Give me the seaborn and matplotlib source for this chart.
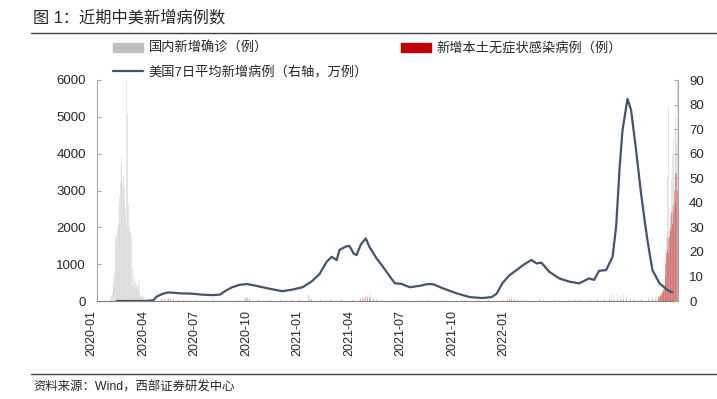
import pandas as pd
import matplotlib.pyplot as plt
import matplotlib.dates as mdates
from matplotlib.patches import Patch
from matplotlib.lines import Line2D
import seaborn as sns

# 美国7日平均新增病例（万例）
us_dates = ['2020-01-29', '2020-03-08', '2020-03-20', '2020-03-25', '2020-04-03', '2020-04-10',
            '2020-04-20', '2020-04-29', '2020-05-13', '2020-05-27', '2020-06-11', '2020-06-22',
            '2020-06-30', '2020-07-09', '2020-07-20', '2020-07-30', '2020-08-10', '2020-08-24',
            '2020-09-10', '2020-09-18', '2020-10-01', '2020-10-16', '2020-10-29', '2020-11-09',
            '2020-11-19', '2020-11-26', '2020-12-03', '2020-12-07', '2020-12-16', '2020-12-21',
            '2020-12-27', '2020-12-31', '2021-01-06', '2021-01-13', '2021-01-18', '2021-01-28',
            '2021-02-06', '2021-02-16', '2021-02-23', '2021-03-04', '2021-03-16', '2021-03-30',
            '2021-04-10', '2021-04-18', '2021-05-01', '2021-05-21', '2021-06-08', '2021-06-26',
            '2021-07-09', '2021-07-16', '2021-07-24', '2021-08-03', '2021-08-13', '2021-08-24',
            '2021-09-03', '2021-09-10', '2021-09-17', '2021-09-28', '2021-10-12', '2021-10-26',
            '2021-11-09', '2021-11-23', '2021-11-30', '2021-12-07', '2021-12-17', '2021-12-26',
            '2021-12-31', '2022-01-05', '2022-01-09', '2022-01-16', '2022-01-21', '2022-01-28',
            '2022-02-04', '2022-02-09', '2022-02-13', '2022-02-20', '2022-03-02', '2022-03-13',
            '2022-03-20']
us_avg = [0, 0, 0.3, 1.8, 3.0, 3.5,
          3.3, 3.1, 3.0, 2.6, 2.4, 2.6,
          4.2, 5.6, 6.6, 6.9, 6.3, 5.4,
          4.4, 4.0, 4.6, 5.6, 8.0, 11.0,
          16.0, 18.0, 16.7, 20.8, 22.2, 22.4,
          19.3, 18.7, 23.0, 25.5, 22.1, 17.4,
          14.0, 9.9, 7.2, 7.0, 5.6, 6.2,
          6.9, 6.8, 5.2, 3.1, 1.6, 1.2,
          1.6, 3.0, 7.2, 10.5, 12.6, 15.0,
          16.7, 15.3, 15.6, 11.9, 9.2, 7.9,
          7.2, 9.2, 8.6, 12.3, 12.6, 18.0,
          30.3, 54.7, 69.6, 82.3, 77.8, 61.5,
          43.9, 33.0, 24.8, 12.6, 7.2, 4.5,
          3.5]

# 国内新增确诊（例），2020-01-20 起逐日
cn_early_start = '2020-01-20'
cn_early_confirmed = [77, 149, 131, 259, 444, 688, 769, 1771, 1459, 1737, 1982, 2102, 2590, 2829,
                      3235, 3887, 3694, 3143, 3399, 2656, 3062, 2478, 2015, 6000, 5090, 2641, 2009,
                      2048, 1886, 1749, 394, 889, 397, 648, 409, 508, 406, 433, 327, 427, 573, 202,
                      125, 119, 139, 143, 99, 44, 40, 19, 24, 15]

# 中间阶段零星病例：日期、确诊、无症状
cn_mid_dates = ['2020-03-15', '2020-03-22', '2020-03-26', '2020-04-01', '2020-04-05', '2020-04-10',
                '2020-04-13', '2020-04-18', '2020-04-24', '2020-05-01', '2020-05-10', '2020-05-20',
                '2020-06-01', '2020-06-13', '2020-06-20', '2020-07-01', '2020-07-20', '2020-07-28',
                '2020-07-30', '2020-08-02', '2020-08-15', '2020-09-01', '2020-09-15', '2020-10-01',
                '2020-10-12', '2020-10-25', '2020-10-28', '2020-11-10', '2020-11-25', '2020-12-10',
                '2020-12-25', '2021-01-05', '2021-01-09', '2021-01-12', '2021-01-15', '2021-01-18',
                '2021-01-20', '2021-01-24', '2021-01-28', '2021-02-05', '2021-02-20', '2021-03-10',
                '2021-04-01', '2021-04-10', '2021-05-01', '2021-05-20', '2021-06-01', '2021-06-20',
                '2021-07-05', '2021-07-25', '2021-07-31', '2021-08-03', '2021-08-06', '2021-08-10',
                '2021-08-15', '2021-08-22', '2021-09-14', '2021-09-20', '2021-10-05', '2021-10-25',
                '2021-11-03', '2021-11-10', '2021-11-25', '2021-12-05', '2021-12-15', '2021-12-22',
                '2021-12-25', '2021-12-28', '2022-01-02', '2022-01-06', '2022-01-10', '2022-01-15',
                '2022-01-20', '2022-01-25', '2022-02-05', '2022-02-15', '2022-02-20', '2022-02-25']
cn_mid_confirmed = [20, 45, 60, 35, 40, 45,
                    100, 20, 10, 5, 10, 5,
                    10, 50, 25, 5, 15, 100,
                    110, 90, 30, 15, 20, 20,
                    30, 20, 25, 20, 25, 20,
                    30, 60, 120, 140, 160, 120,
                    190, 100, 60, 20, 10, 15,
                    15, 30, 15, 20, 30, 25,
                    30, 70, 90, 110, 125, 100,
                    70, 30, 60, 40, 30, 40,
                    90, 60, 40, 80, 100, 110,
                    200, 180, 190, 170, 200, 160,
                    90, 80, 60, 100, 110, 150]
cn_mid_asym = [0, 0, 0, 60, 50, 80,
               60, 50, 40, 30, 20, 25,
               15, 10, 10, 5, 20, 60,
               90, 40, 20, 25, 30, 25,
               40, 160, 60, 30, 40, 30,
               20, 40, 80, 110, 100, 80,
               60, 40, 30, 15, 10, 10,
               15, 10, 10, 5, 10, 15,
               20, 20, 30, 40, 50, 40,
               20, 10, 30, 15, 15, 10,
               20, 15, 20, 25, 20, 30,
               30, 40, 30, 40, 50, 40,
               30, 25, 30, 40, 50, 60]

# 2022年3月逐日
cn_late_start = '2022-03-01'
cn_late_confirmed = [140, 110, 175, 200, 230, 310, 260, 400, 450, 1100, 1400, 1800, 3400, 1900,
                     5280, 1900, 2400, 2300, 3300, 4000, 2000, 4400, 2600, 5000, 4700, 4300, 6000]
cn_late_asym = [120, 100, 130, 150, 180, 220, 250, 300, 350, 650, 1000, 1300, 1400, 1700,
                1300, 1750, 2000, 1900, 2400, 2100, 2600, 2400, 3000, 3470, 2700, 3470, 3000]

legend_labels = ['国内新增确诊（例）', '美国7日平均新增病例（右轴，万例）', '新增本土无症状感染病例（例）']
xtick_labels = ['2020-01', '2020-04', '2020-07', '2020-10', '2021-01',
                '2021-04', '2021-07', '2021-10', '2022-01']

gray = '#bfbfbf'
red = '#c00000'
navy = '#44546a'
axis_gray = '#a6a6a6'

sns.set_style('white')
plt.rcParams['font.family'] = ['Liberation Sans', 'Noto Sans CJK SC']

fig = plt.figure(figsize=(7.17, 3.99), dpi=100)
ax = fig.add_axes([97 / 717, 1 - 301 / 399, 581 / 717, 221 / 399])
ax2 = ax.twinx()

early_dates = pd.date_range(cn_early_start, periods=len(cn_early_confirmed))
late_dates = pd.date_range(cn_late_start, periods=len(cn_late_confirmed))
mid_dates = pd.to_datetime(cn_mid_dates)

bar_kw = dict(width=0.55, linewidth=0, snap=False)
ax.bar(early_dates, cn_early_confirmed, color=gray, **bar_kw)
ax.bar(mid_dates, cn_mid_confirmed, color=gray, **bar_kw)
ax.bar(late_dates, cn_late_confirmed, color=gray, **bar_kw)
ax.bar(mid_dates, cn_mid_asym, color='#e03030', **bar_kw)
ax.bar(late_dates, cn_late_asym, color='#d42020', **bar_kw)

sns.lineplot(x=pd.to_datetime(us_dates), y=us_avg, ax=ax2, color=navy, linewidth=1.6)

ax.set_xlim(pd.Timestamp('2020-01-01'), pd.Timestamp('2022-03-28'))
ax.set_ylim(0, 6000)
ax2.set_ylim(0, 90)
ax.set_yticks(range(0, 6001, 1000))
ax2.set_yticks(range(0, 91, 10))
ax.xaxis.set_major_locator(mdates.MonthLocator(bymonth=[1, 4, 7, 10]))
ax.xaxis.set_major_formatter(plt.NullFormatter())
ax.set_xlabel('')
ax2.set_ylabel('')
ax.set_ylabel('')

for a in (ax, ax2):
    for s in a.spines.values():
        s.set_visible(False)
ax.spines['left'].set_visible(True)
ax.spines['left'].set_color(axis_gray)
ax.spines['bottom'].set_visible(True)
ax.spines['bottom'].set_color('#808080')
ax2.spines['right'].set_visible(True)
ax2.spines['right'].set_color(axis_gray)
for s in ('left', 'bottom'):
    ax.spines[s].set_linewidth(0.8)
ax2.spines['right'].set_linewidth(0.8)

ax.tick_params(axis='y', direction='in', length=3, color=axis_gray, labelsize=9.5, pad=8)
ax2.tick_params(axis='y', direction='in', length=3, color=axis_gray, labelsize=9.5, pad=8)
ax.tick_params(axis='x', direction='in', length=3, color='#808080')

# 横轴标签
for i, lab in enumerate(xtick_labels):
    ax.text(-0.0091 + i * 0.0886, -0.04, lab, transform=ax.transAxes, rotation=90,
            ha='center', va='top', fontsize=9)

handles = [Patch(color=gray), Line2D([], [], color=navy, linewidth=1.6), Patch(color=red)]
fig.legend(handles, legend_labels, loc='upper left', bbox_to_anchor=(113 / 717, 1 - 42 / 399),
           ncol=2, frameon=False, fontsize=9.5, handlelength=2.3, handletextpad=0.4,
           columnspacing=2.5, labelspacing=0.8, borderpad=0, borderaxespad=0)

fig.text(33 / 717, 1 - 18 / 399, '图 1：近期中美新增病例数', fontsize=11.7, va='center')
fig.add_artist(Line2D([31 / 717, 1], [1 - 33 / 399] * 2, color='#404040', linewidth=1))
fig.add_artist(Line2D([31 / 717, 1], [1 - 374 / 399] * 2, color='#404040', linewidth=1))
fig.text(33 / 717, 1 - 388 / 399, '资料来源：Wind，西部证券研发中心', fontsize=8.9, va='center')

fig.savefig('out.png', dpi=100)
